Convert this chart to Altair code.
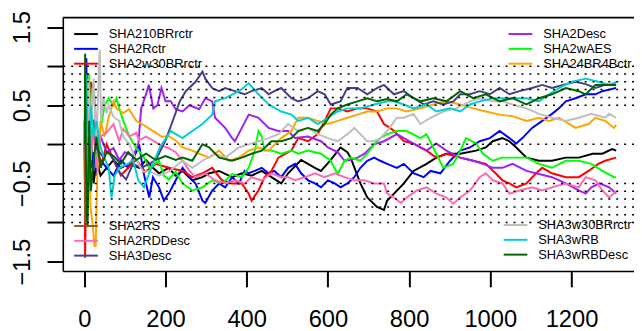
import altair as alt
import pandas as pd

NAMES = ["SHA210BRrctr", "SHA2Rctr", "SHA2w30BRrctr",
         "SHA2Desc", "SHA2wAES", "SHA24BR4Bctr",
         "SHA2RS", "SHA2RDDesc", "SHA3Desc",
         "SHA3w30BRrctr", "SHA3wRB", "SHA3wRBDesc"]
COLORS = ["#000000", "#0000FF", "#FF0000",
          "#A020F0", "#00FF00", "#FFA500",
          "#A0522D", "#FF69B4", "#483D8B",
          "#BEBEBE", "#00CED1", "#006400"]

SHA210BRRCTR = [(1,0.3),(3,-0.6),(6,0.4),(10,-0.3),(16,0.1),(23,-0.5),(30,-0.2),(40,-0.4),(55,-0.3),(72,-0.2),(90,-0.3),(111,-0.25),(135,-0.3),(152,-0.2),(169,-0.3),(184,-0.37),(208,-0.3),(225,-0.4),(242,-0.34),(266,-0.46),(291,-0.42),(308,-0.37),(332,-0.34),(364,-0.42),(388,-0.37),(412,-0.4),(437,-0.34),(461,-0.42),(485,-0.5),(502,-0.37),(534,-0.2),(551,-0.25),(568,-0.3),(583,-0.34),(607,-0.2),(631,-0.04),(648,-0.1),(656,-0.17),(680,-0.5),(697,-0.68),(721,-0.8),(738,-0.84),(746,-0.72),(763,-0.63),(787,-0.5),(811,-0.34),(843,-0.25),(867,-0.17),(892,-0.12),(926,-0.12),(965,-0.08),(989,-0.04),(1006,0.04),(1030,0.08),(1047,0.04),(1064,-0.04),(1089,-0.17),(1120,-0.21),(1152,-0.21),(1186,-0.17),(1218,-0.17),(1252,-0.12),(1276,-0.12),(1300,-0.06),(1310,-0.08)]

SHA2RCTR = [(1,0.0),(2,-0.8),(5,1.1),(8,-0.5),(12,0.3),(16,-0.3),(23,-0.1),(30,-0.4),(40,-0.2),(55,-0.3),(72,-0.4),(90,-0.2),(108,-0.3),(128,-0.1),(135,0.0),(145,-0.34),(152,-0.5),(160,-0.68),(169,-0.42),(184,-0.55),(196,-0.72),(208,-0.63),(225,-0.46),(242,-0.3),(259,-0.42),(274,-0.5),(291,-0.72),(298,-0.75),(315,-0.59),(332,-0.5),(347,-0.55),(364,-0.42),(381,-0.5),(395,-0.34),(405,-0.37),(420,-0.34),(437,-0.3),(454,-0.37),(468,-0.34),(485,-0.42),(502,-0.3),(519,-0.25),(534,-0.37),(551,-0.46),(568,-0.5),(583,-0.55),(600,-0.46),(617,-0.5),(631,-0.55),(648,-0.5),(665,-0.42),(680,-0.3),(697,-0.21),(714,-0.17),(729,-0.21),(746,-0.25),(770,-0.3),(787,-0.25),(811,-0.37),(836,-0.42),(853,-0.34),(877,-0.37),(901,-0.21),(926,-0.08),(950,-0.04),(974,0.04),(999,0.08),(1023,0.17),(1047,0.08),(1064,0.01),(1079,0.08),(1103,0.21),(1128,0.3),(1152,0.39),(1169,0.46),(1186,0.55),(1210,0.59),(1235,0.64),(1259,0.64),(1276,0.68),(1293,0.7),(1310,0.72)]

SHA2W30BRRCTR = [(1,0.0),(2,-1.45),(4,-0.6),(8,0.5),(12,-0.2),(16,0.8),(23,0.7),(30,0.2),(40,-0.3),(55,0.0),(72,-0.2),(90,-0.4),(108,-0.3),(128,-0.2),(150,-0.35),(176,-0.25),(208,-0.3),(242,-0.34),(266,-0.42),(291,-0.37),(315,-0.3),(339,-0.46),(364,-0.5),(388,-0.5),(405,-0.63),(412,-0.72),(429,-0.59),(444,-0.42),(461,-0.34),(478,-0.17),(510,-0.08),(527,0.08),(551,0.04),(575,0.13),(592,0.3),(607,0.46),(624,0.46),(648,0.42),(673,0.46),(697,0.46),(721,0.42),(738,0.26),(753,0.21),(763,0.17),(787,0.04),(811,0.01),(843,-0.08),(867,-0.17),(892,-0.12),(926,-0.17),(958,-0.21),(989,-0.25),(1013,-0.37),(1030,-0.46),(1047,-0.5),(1064,-0.55),(1089,-0.5),(1113,-0.37),(1128,-0.3),(1152,-0.37),(1186,-0.42),(1218,-0.42),(1242,-0.34),(1266,-0.25),(1283,-0.21),(1310,-0.17)]

SHA2DESC = [(1,0.0),(3,-0.5),(6,0.89),(9,0.2),(14,-0.4),(20,0.3),(30,-0.2),(40,0.1),(55,-0.1),(72,-0.05),(86,-0.2),(100,-0.1),(120,-0.15),(133,0.0),(140,0.46),(152,0.64),(159,0.76),(170,0.46),(180,0.5),(190,0.72),(200,0.55),(213,0.55),(225,0.45),(242,0.42),(259,0.5),(283,0.45),(298,0.59),(315,0.55),(322,0.34),(347,0.21),(364,0.08),(371,0.04),(388,0.21),(405,0.38),(429,0.34),(454,0.21),(478,0.17),(502,0.17),(519,0.08),(551,0.1),(583,0.04),(600,-0.04),(624,-0.1),(641,-0.21),(656,-0.2),(673,-0.17),(690,-0.12),(714,0.0),(738,0.04),(770,0.13),(787,0.08),(811,0.01),(843,-0.08),(867,0.01),(892,-0.08),(926,-0.17),(958,-0.21),(982,-0.25),(1006,-0.3),(1030,-0.3),(1055,-0.25),(1089,-0.34),(1120,-0.38),(1152,-0.42),(1186,-0.5),(1218,-0.59),(1235,-0.63),(1249,-0.55),(1269,-0.5),(1293,-0.55),(1310,-0.63)]

SHA2WAES = [(1,0.0),(3,0.6),(6,-0.4),(12,0.9),(16,0.0),(23,0.3),(30,-0.3),(40,0.2),(50,0.5),(60,0.59),(72,0.5),(79,0.59),(86,0.46),(96,0.3),(111,0.1),(128,-0.05),(145,-0.15),(160,-0.3),(184,-0.21),(196,-0.4),(208,-0.45),(225,-0.35),(242,-0.5),(266,-0.59),(291,-0.55),(315,-0.46),(339,-0.5),(364,-0.38),(388,-0.42),(405,-0.3),(420,-0.08),(429,0.17),(437,0.1),(444,-0.08),(461,-0.08),(485,-0.12),(510,-0.08),(527,-0.12),(551,-0.08),(583,-0.12),(607,-0.21),(624,-0.38),(641,-0.21),(656,-0.17),(680,-0.21),(697,-0.12),(714,0.0),(729,0.08),(746,0.13),(770,0.17),(794,0.17),(828,0.08),(843,0.13),(867,-0.12),(884,-0.3),(909,-0.25),(926,-0.08),(940,0.08),(965,0.01),(982,-0.12),(1006,-0.21),(1030,-0.17),(1055,-0.17),(1089,-0.17),(1120,-0.25),(1152,-0.3),(1186,-0.21),(1218,-0.21),(1249,-0.25),(1276,-0.34),(1305,-0.42),(1310,-0.42)]

SHA24BR4BCTR = [(1,0.2),(3,-0.6),(5,-1.0),(8,0.3),(10,0.7),(15,-0.8),(20,-1.0),(25,-1.3),(28,-1.3),(32,-0.4),(40,0.3),(50,0.1),(60,0.35),(72,0.55),(80,0.45),(96,0.4),(110,0.45),(128,0.3),(145,0.25),(160,0.2),(176,0.15),(190,0.1),(210,0.1),(225,0.05),(242,-0.04),(266,-0.08),(283,-0.12),(308,-0.17),(332,-0.08),(356,-0.21),(381,-0.17),(405,-0.08),(429,-0.04),(454,-0.08),(485,0.08),(510,0.17),(527,0.34),(551,0.34),(575,0.3),(600,0.26),(624,0.3),(648,0.34),(673,0.38),(697,0.42),(721,0.42),(746,0.46),(770,0.46),(794,0.42),(828,0.46),(860,0.51),(892,0.55),(926,0.51),(958,0.46),(989,0.42),(1023,0.38),(1055,0.36),(1089,0.3),(1120,0.34),(1145,0.3),(1169,0.34),(1210,0.21),(1242,0.26),(1259,0.34),(1283,0.3),(1305,0.21),(1310,0.25)]

SHA2RS = [(1,0.0),(2,-1.0),(3,0.5),(4,-0.3),(5,0.2),(6,-0.2)]

SHA2RDDESC = [(1,0.0),(3,0.7),(6,-0.8),(10,0.4),(16,-0.2),(23,0.2),(30,-0.3),(40,0.1),(55,0.15),(72,0.26),(86,0.04),(96,0.2),(111,0.1),(128,0.15),(135,0.05),(152,0.1),(169,0.05),(184,0.0),(208,-0.05),(225,-0.1),(242,-0.21),(259,-0.34),(274,-0.42),(298,-0.37),(322,-0.46),(347,-0.5),(371,-0.46),(395,-0.5),(412,-0.42),(437,-0.46),(461,-0.37),(485,-0.42),(502,-0.42),(519,-0.46),(544,-0.42),(568,-0.37),(592,-0.42),(617,-0.37),(641,-0.42),(665,-0.46),(690,-0.46),(714,-0.5),(738,-0.5),(746,-0.63),(763,-0.68),(780,-0.75),(794,-0.68),(819,-0.59),(843,-0.55),(867,-0.63),(892,-0.68),(909,-0.76),(926,-0.68),(950,-0.59),(974,-0.42),(989,-0.37),(1006,-0.46),(1030,-0.5),(1047,-0.63),(1072,-0.59),(1103,-0.55),(1128,-0.59),(1152,-0.55),(1186,-0.5),(1218,-0.55),(1235,-0.42),(1259,-0.46),(1276,-0.59),(1293,-0.68),(1310,-0.6)]

SHA3DESC = [(1,0.0),(4,0.5),(8,-0.4),(14,0.25),(23,0.3),(30,-0.05),(45,-0.15),(60,-0.1),(72,-0.2),(86,-0.35),(103,-0.45),(120,-0.25),(140,-0.3),(160,-0.25),(176,-0.2),(200,0.05),(215,0.26),(235,0.55),(250,0.68),(274,0.8),(291,0.93),(298,0.84),(315,0.72),(332,0.68),(347,0.72),(371,0.68),(395,0.64),(412,0.68),(437,0.72),(454,0.64),(468,0.68),(485,0.72),(510,0.59),(527,0.55),(551,0.59),(575,0.68),(592,0.64),(607,0.51),(631,0.55),(648,0.72),(673,0.72),(697,0.64),(721,0.72),(738,0.76),(763,0.64),(787,0.68),(811,0.59),(836,0.51),(860,0.55),(884,0.51),(909,0.55),(926,0.64),(950,0.64),(974,0.68),(999,0.64),(1023,0.72),(1047,0.64),(1072,0.68),(1103,0.72),(1128,0.76),(1152,0.72),(1186,0.77),(1210,0.8),(1235,0.77),(1259,0.72),(1283,0.76),(1310,0.77)]

SHA3W30BRRCTR = [(1,0.1),(3,0.9),(6,-0.3),(10,0.84),(16,0.2),(23,0.84),(30,0.0),(36,1.0),(38,1.21),(41,0.3),(47,0.6),(55,0.4),(60,0.5),(72,0.35),(86,0.3),(96,0.1),(111,0.0),(128,-0.2),(145,-0.35),(159,-0.34),(184,-0.4),(208,-0.35),(242,-0.21),(266,-0.3),(291,-0.21),(322,-0.12),(347,-0.17),(381,-0.04),(405,0.0),(429,0.04),(454,0.08),(478,0.13),(502,0.26),(527,0.17),(551,0.21),(575,0.13),(600,0.08),(624,0.04),(648,0.13),(665,0.21),(680,0.13),(697,0.04),(714,0.04),(729,0.08),(746,0.17),(770,0.34),(787,0.34),(811,0.39),(828,0.26),(853,0.34),(884,0.42),(916,0.46),(950,0.55),(974,0.59),(1006,0.55),(1030,0.55),(1055,0.51),(1089,0.46),(1120,0.39),(1152,0.34),(1186,0.3),(1218,0.34),(1249,0.39),(1283,0.34),(1293,0.39),(1310,0.34)]

SHA3WRB = [(1,0.2),(3,0.89),(6,0.6),(10,-0.59),(16,0.5),(23,0.1),(30,0.3),(38,0.0),(47,-0.15),(60,-0.3),(67,-0.68),(75,-0.4),(86,-0.3),(108,-0.25),(120,-0.2),(133,-0.46),(147,-0.55),(162,-0.34),(186,-0.04),(213,0.17),(242,0.08),(266,0.17),(291,0.26),(315,0.38),(322,0.55),(347,0.59),(381,0.68),(405,0.78),(429,0.64),(454,0.51),(485,0.42),(510,0.38),(527,0.3),(551,0.34),(575,0.26),(600,0.34),(624,0.42),(648,0.46),(680,0.46),(714,0.51),(746,0.55),(763,0.55),(787,0.51),(811,0.46),(843,0.51),(867,0.42),(901,0.46),(926,0.42),(950,0.51),(974,0.55),(1006,0.59),(1030,0.59),(1055,0.59),(1089,0.59),(1120,0.55),(1145,0.64),(1169,0.72),(1201,0.8),(1235,0.84),(1266,0.8),(1293,0.76),(1310,0.8)]

SHA3WRBDESC = [(1,0.0),(2,1.16),(4,-0.2),(6,-0.9),(8,-1.06),(12,0.3),(16,-0.6),(23,-0.2),(30,0.1),(40,-0.3),(55,-0.1),(72,-0.15),(90,-0.25),(108,-0.1),(128,-0.2),(152,-0.12),(176,-0.2),(200,-0.15),(225,-0.2),(242,-0.17),(266,-0.21),(291,0.0),(308,-0.04),(332,-0.17),(364,-0.21),(388,-0.17),(412,-0.12),(437,-0.08),(461,0.04),(485,0.04),(510,0.08),(527,0.17),(551,0.21),(575,0.17),(592,0.26),(607,0.38),(624,0.46),(648,0.51),(673,0.55),(697,0.59),(721,0.55),(746,0.58),(770,0.55),(794,0.64),(828,0.55),(860,0.59),(892,0.55),(926,0.68),(958,0.59),(989,0.64),(1023,0.55),(1055,0.59),(1089,0.51),(1120,0.59),(1152,0.64),(1186,0.72),(1218,0.68),(1235,0.64),(1259,0.76),(1293,0.76),(1310,0.76)]

SERIES = [SHA210BRRCTR, SHA2RCTR, SHA2W30BRRCTR, SHA2DESC, SHA2WAES, SHA24BR4BCTR,
          SHA2RS, SHA2RDDESC, SHA3DESC, SHA3W30BRRCTR, SHA3WRB, SHA3WRBDESC]

X_TICKS = [0, 200, 400, 600, 800, 1000, 1200]
Y_TICKS = [-1.5, -1.0, -0.5, 0.0, 0.5, 1.0, 1.5]
GRID_LEVELS = [-1.0, -0.9, -0.8, -0.7, -0.6, -0.5, 0.0, 0.5, 0.6, 0.7, 0.8, 0.9, 1.0]
X_DOMAIN = [-53, 1354]
Y_DOMAIN = [-1.62, 1.62]

rows = []
for name, pts in zip(NAMES, SERIES):
    for i, (xv, yv) in enumerate(pts):
        rows.append({"series": name, "x": xv, "y": yv, "i": i})
df = pd.DataFrame(rows)

FONT = "Liberation Sans"
xscale = alt.Scale(domain=X_DOMAIN, nice=False, zero=False)
yscale = alt.Scale(domain=Y_DOMAIN, nice=False, zero=False)

xaxis = alt.Axis(values=X_TICKS, tickSize=16, tickWidth=2, tickColor="black",
                 domainColor="black", domainWidth=1.6, labelFontSize=24,
                 labelFont=FONT, labelColor="black", labelPadding=40,
                 labelBaseline="alphabetic", labelFlush=False, grid=False,
                 title=None, labelOverlap=False, format="d")
yaxis = alt.Axis(values=Y_TICKS, tickSize=16, tickWidth=2, tickColor="black",
                 domainColor="black", domainWidth=1.6, labelFontSize=24,
                 labelFont=FONT, labelColor="black", labelPadding=18,
                 labelAngle=270, labelAlign="center", labelBaseline="alphabetic",
                 labelExpr="(abs(datum.value) == 0.5 || abs(datum.value) == 1.5) ? format(datum.value, '.1f') : ''",
                 grid=False, title=None, labelOverlap=False, labelFlush=False)

GROUPS = [(0, 3, 16.5, 9.6), (3, 6, 456.5, 9.6), (6, 9, 16.5, 204), (9, 12, 451.5, 203)]

layers = []
for a, b, lx, ly in GROUPS:
    names = NAMES[a:b]
    cols = COLORS[a:b]
    layer = alt.Chart(df).transform_filter(
        alt.FieldOneOfPredicate(field="series", oneOf=names)
    ).mark_line(strokeWidth=2, clip=True).encode(
        x=alt.X("x:Q", scale=xscale, axis=xaxis),
        y=alt.Y("y:Q", scale=yscale, axis=yaxis),
        order="i:Q",
        color=alt.Color("series:N", scale=alt.Scale(domain=names, range=cols),
                        legend=alt.Legend(orient="none", legendX=lx, legendY=ly,
                                          title=None, symbolType="M-2,0H2",
                                          symbolSize=144, symbolStrokeWidth=2,
                                          labelFontSize=13, labelFont=FONT,
                                          labelColor="black", labelOffset=16,
                                          rowPadding=1, padding=0)),
    )
    layers.append(layer)

grid = alt.Chart(pd.DataFrame({"y": GRID_LEVELS})).mark_rule(
    strokeDash=[2, 6], strokeWidth=1.5, color="black"
).encode(y=alt.Y("y:Q", scale=yscale, axis=yaxis))

top = alt.Chart(pd.DataFrame({"y": [Y_DOMAIN[1]]})).mark_rule(
    strokeWidth=1.6, color="black"
).encode(y=alt.Y("y:Q", scale=yscale, axis=yaxis))

chart = alt.layer(*layers, grid, top).resolve_scale(color="independent").properties(
    width=578.5, height=256.6,
    autosize=alt.AutoSizeParams(type="none"),
    padding={"left": 55.5, "top": 7.7, "right": 0, "bottom": 62},
    background="white",
).configure_view(stroke=None)

chart.save("out.html", embed_options={"renderer": "svg", "actions": False})
